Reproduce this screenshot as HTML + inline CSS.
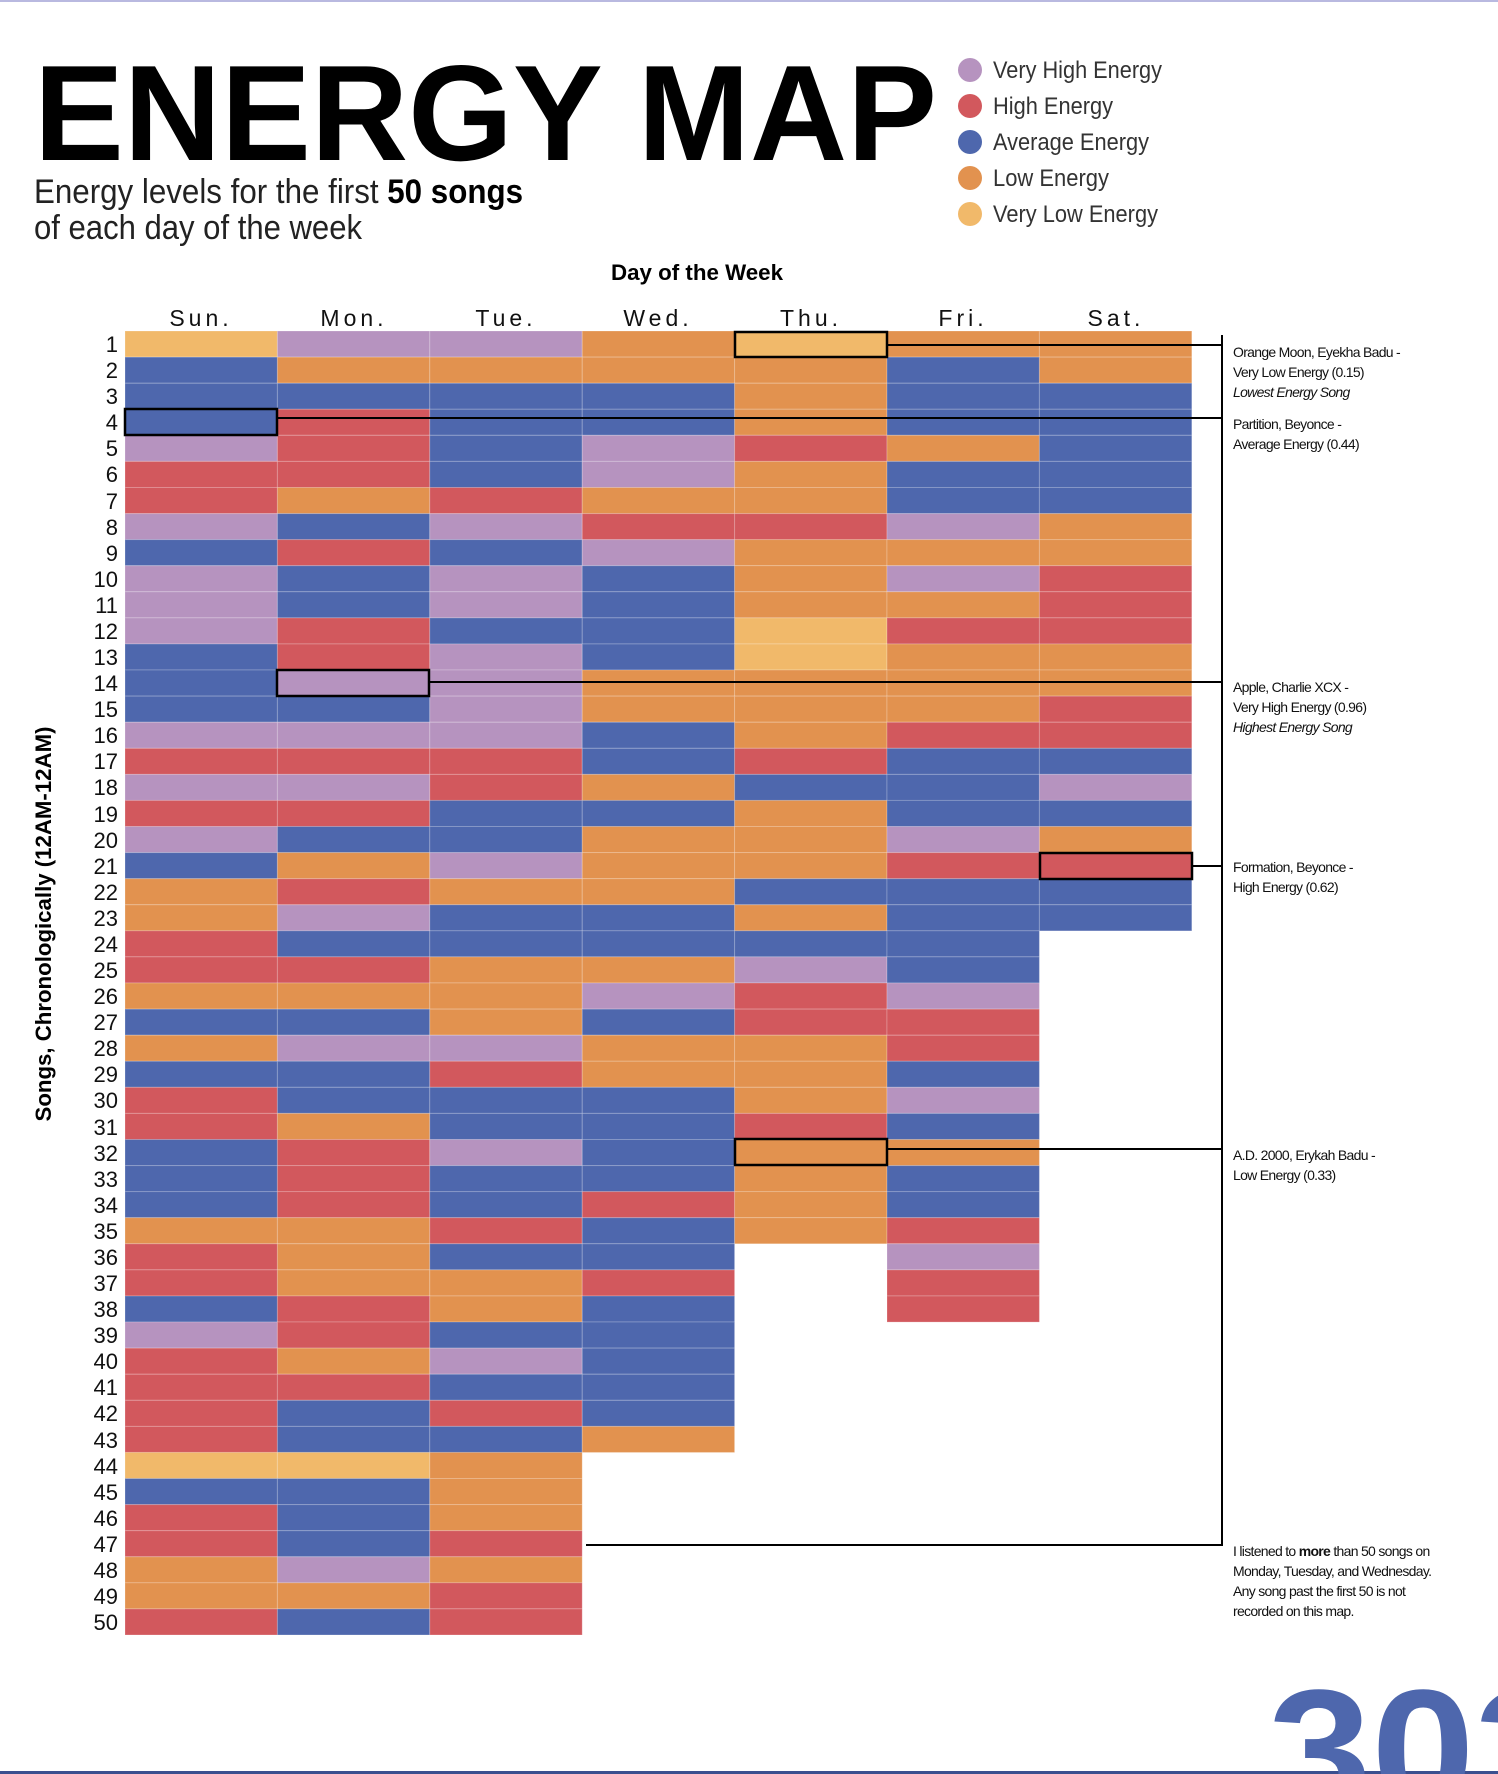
<!DOCTYPE html>
<html><head><meta charset="utf-8"><style>
html,body{margin:0;padding:0;background:#fff;}
svg{display:block;}
text{font-family:"Liberation Sans",sans-serif;}
</style></head><body>
<svg id="s" width="1498" height="1774" viewBox="0 0 1498 1774" xmlns="http://www.w3.org/2000/svg">
<rect x="0" y="0" width="1498" height="2" fill="#b9b9e0"/>
<rect x="0" y="1771" width="1498" height="3" fill="#3b4f8f"/>
<text x="34" y="160" font-size="136" font-weight="bold" textLength="903" lengthAdjust="spacingAndGlyphs" fill="#000">ENERGY MAP</text>
<text x="34" y="203" font-size="34" textLength="489" lengthAdjust="spacingAndGlyphs" fill="#222" font-weight="300">Energy levels for the first <tspan font-weight="bold" fill="#000">50 songs</tspan></text>
<text x="34" y="239" font-size="34" textLength="328" lengthAdjust="spacingAndGlyphs" fill="#222">of each day of the week</text>
<g font-size="24" fill="#333">
<circle cx="970" cy="70" r="12" fill="#b693bf"/><text x="993" y="78" textLength="169" lengthAdjust="spacingAndGlyphs">Very High Energy</text>
<circle cx="970" cy="106" r="12" fill="#d2585d"/><text x="993" y="114" textLength="120" lengthAdjust="spacingAndGlyphs">High Energy</text>
<circle cx="970" cy="142" r="12" fill="#4e67ad"/><text x="993" y="150" textLength="156" lengthAdjust="spacingAndGlyphs">Average Energy</text>
<circle cx="970" cy="178" r="12" fill="#e2924f"/><text x="993" y="186" textLength="116" lengthAdjust="spacingAndGlyphs">Low Energy</text>
<circle cx="970" cy="214" r="12" fill="#f1b96a"/><text x="993" y="222" textLength="165" lengthAdjust="spacingAndGlyphs">Very Low Energy</text>
</g>
<text x="697" y="280" font-size="22" font-weight="bold" text-anchor="middle" textLength="172" lengthAdjust="spacingAndGlyphs">Day of the Week</text>
<g font-size="23" fill="#111" text-anchor="middle" letter-spacing="4">
<text x="201" y="326">Sun.</text><text x="354" y="326">Mon.</text><text x="506" y="326">Tue.</text><text x="658" y="326">Wed.</text><text x="811" y="326">Thu.</text><text x="963" y="326">Fri.</text><text x="1116" y="326">Sat.</text>
</g>
<text transform="translate(51,924) rotate(-90)" font-size="22" font-weight="bold" text-anchor="middle" textLength="395" lengthAdjust="spacingAndGlyphs">Songs, Chronologically (12AM-12AM)</text>
<g id="cells"></g>
<g id="labels" font-size="22" fill="#111" text-anchor="end">
<text x="118" y="352">1</text><text x="118" y="378">2</text><text x="118" y="404">3</text><text x="118" y="430">4</text><text x="118" y="456">5</text><text x="118" y="482">6</text><text x="118" y="509">7</text><text x="118" y="535">8</text><text x="118" y="561">9</text><text x="118" y="587">10</text><text x="118" y="613">11</text><text x="118" y="639">12</text><text x="118" y="665">13</text><text x="118" y="691">14</text><text x="118" y="717">15</text><text x="118" y="743">16</text><text x="118" y="769">17</text><text x="118" y="795">18</text><text x="118" y="822">19</text><text x="118" y="848">20</text><text x="118" y="874">21</text><text x="118" y="900">22</text><text x="118" y="926">23</text><text x="118" y="952">24</text><text x="118" y="978">25</text><text x="118" y="1004">26</text><text x="118" y="1030">27</text><text x="118" y="1056">28</text><text x="118" y="1082">29</text><text x="118" y="1108">30</text><text x="118" y="1135">31</text><text x="118" y="1161">32</text><text x="118" y="1187">33</text><text x="118" y="1213">34</text><text x="118" y="1239">35</text><text x="118" y="1265">36</text><text x="118" y="1291">37</text><text x="118" y="1317">38</text><text x="118" y="1343">39</text><text x="118" y="1369">40</text><text x="118" y="1395">41</text><text x="118" y="1421">42</text><text x="118" y="1448">43</text><text x="118" y="1474">44</text><text x="118" y="1500">45</text><text x="118" y="1526">46</text><text x="118" y="1552">47</text><text x="118" y="1578">48</text><text x="118" y="1604">49</text><text x="118" y="1630">50</text>
</g>
<g stroke="#000" stroke-width="2" fill="none">
<line x1="1222" y1="335" x2="1222" y2="1546"/>
<line x1="887" y1="345" x2="1222" y2="345"/>
<line x1="277" y1="418" x2="1222" y2="418"/>
<line x1="429" y1="682" x2="1222" y2="682"/>
<line x1="1192" y1="866" x2="1222" y2="866"/>
<line x1="887" y1="1149" x2="1222" y2="1149"/>
<line x1="586" y1="1545" x2="1222" y2="1545"/>
<rect x="735" y="332" width="152" height="25" stroke-width="2.5"/>
<rect x="125" y="409" width="152" height="26" stroke-width="2.5"/>
<rect x="277" y="670" width="152" height="26" stroke-width="2.5"/>
<rect x="1040" y="853" width="152" height="26" stroke-width="2.5"/>
<rect x="735" y="1139" width="152" height="26" stroke-width="2.5"/>
</g>
<g font-size="14" fill="#111" letter-spacing="-0.7">
<text x="1233" y="357">Orange Moon, Eyekha Badu -</text>
<text x="1233" y="377">Very Low Energy (0.15)</text>
<text x="1233" y="397" font-style="italic">Lowest Energy Song</text>
<text x="1233" y="429">Partition, Beyonce -</text>
<text x="1233" y="449">Average Energy (0.44)</text>
<text x="1233" y="692">Apple, Charlie XCX -</text>
<text x="1233" y="712">Very High Energy (0.96)</text>
<text x="1233" y="732" font-style="italic">Highest Energy Song</text>
<text x="1233" y="872">Formation, Beyonce -</text>
<text x="1233" y="892">High Energy (0.62)</text>
<text x="1233" y="1160">A.D. 2000, Erykah Badu -</text>
<text x="1233" y="1180">Low Energy (0.33)</text>
<text x="1233" y="1556">I listened to <tspan font-weight="bold">more</tspan> than 50 songs on</text>
<text x="1233" y="1576">Monday, Tuesday, and Wednesday.</text>
<text x="1233" y="1596">Any song past the first 50 is not</text>
<text x="1233" y="1616">recorded on this map.</text>
</g>
<text x="1268" y="1808" font-size="170" font-weight="bold" fill="#4e67ad" textLength="310" lengthAdjust="spacingAndGlyphs">303</text>
</svg>
<script>
var rows=["YPPOYOO","BOOOOBO","BBBBOBB","BRBBOBB","PRBPROB","RRBPOBB","ROROOBB","PBPRRPO","BRBPOOO","PBPBOPR","PBPBOOR","PRBBYRR","BRPBYOO","BPPOOOO","BBPOOOR","PPPBORR","RRRBRBB","PPROBBP","RRBBOBB","PBBOOPO","BOPOORR","OROOBBB","OPBBOBB","RBBBBB","RROOPB","OOOPRP","BBOBRR","OPPOOR","BBROOB","RBBBOP","ROBBRB","BRPBOO","BRBBOB","BRBROB","OORBOR","ROBB-P","ROOR-R","BROB-R","PRBB","ROPB","RRBB","RBRB","RBBO","YYO","BBO","RBO","RBR","OPO","OOR","RBR"];
var col={P:"#b693bf",R:"#d2585d",B:"#4e67ad",O:"#e2924f",Y:"#f1b96a"};
var g=document.getElementById("cells"),h="";
for(var r=0;r<rows.length;r++){for(var c=0;c<rows[r].length;c++){var k=rows[r][c];if(!col[k])continue;
var x=125+c*152.4,y=331+r*26.08;
h+='<rect x="'+x.toFixed(1)+'" y="'+y.toFixed(1)+'" width="152.4" height="26.08" fill="'+col[k]+'" stroke="rgba(255,255,255,0.22)" stroke-width="1"/>';}}
g.innerHTML=h;
</script>
</body></html>
